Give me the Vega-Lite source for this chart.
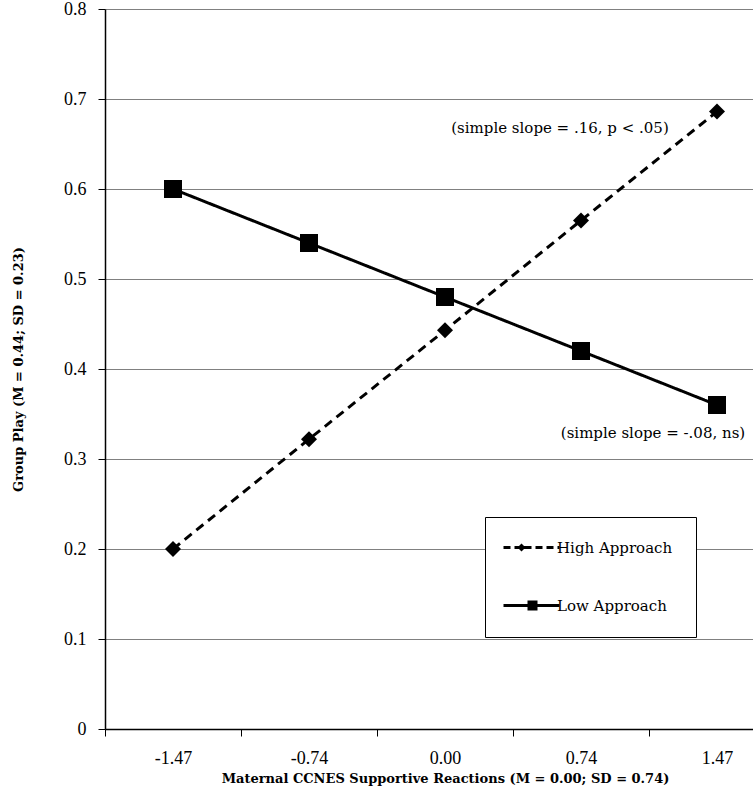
{
  "$schema": "https://vega.github.io/schema/vega-lite/v6.json",
  "width": 680,
  "height": 720,
  "autosize": {"type": "none"},
  "padding": {"left": 105, "top": 9, "right": 0, "bottom": 65},
  "background": "white",
  "config": {
    "view": {"stroke": null},
    "font": "Liberation Serif",
    "axis": {"labelColor": "black", "titleColor": "black", "domainColor": "black", "tickColor": "black"}
  },
  "datasets": {
    "lines": [
      {"x": "-1.47", "y": 0.20, "series": "High Approach"},
      {"x": "-0.74", "y": 0.322, "series": "High Approach"},
      {"x": "0.00", "y": 0.443, "series": "High Approach"},
      {"x": "0.74", "y": 0.565, "series": "High Approach"},
      {"x": "1.47", "y": 0.686, "series": "High Approach"},
      {"x": "-1.47", "y": 0.60, "series": "Low Approach"},
      {"x": "-0.74", "y": 0.54, "series": "Low Approach"},
      {"x": "0.00", "y": 0.48, "series": "Low Approach"},
      {"x": "0.74", "y": 0.42, "series": "Low Approach"},
      {"x": "1.47", "y": 0.36, "series": "Low Approach"}
    ],
    "note1": [{"x": "0.74", "y": 0.668, "label": "(simple slope = .16, p < .05)"}],
    "note2": [{"x": "1.47", "y": 0.329, "label": "(simple slope = -.08, ns)"}]
  },
  "encoding": {
    "x": {
      "field": "x",
      "type": "ordinal",
      "sort": ["-1.47", "-0.74", "0.00", "0.74", "1.47"],
      "scale": {"domain": ["-1.47", "-0.74", "0.00", "0.74", "1.47"], "paddingInner": 0, "paddingOuter": 0},
      "axis": {
        "title": "Maternal CCNES Supportive Reactions (M = 0.00; SD = 0.74)",
        "titleFont": "DejaVu Serif",
        "titleFontSize": 13,
        "titleFontWeight": "bold",
        "titlePadding": 5,
        "labelFontSize": 18,
        "labelFont": "Liberation Serif",
        "labelAngle": 0,
        "labelPadding": 13,
        "tickOffset": -68,
        "labelOffset": 68,
        "tickSize": 7,
        "tickWidth": 1,
        "domainWidth": 1.5,
        "grid": false
      }
    },
    "y": {
      "field": "y",
      "type": "quantitative",
      "scale": {"domain": [0, 0.8], "nice": false, "zero": true},
      "axis": {
        "title": "Group Play (M = 0.44; SD = 0.23)",
        "titleFont": "DejaVu Serif",
        "titleFontSize": 13,
        "titleFontWeight": "bold",
        "titlePadding": 38,
        "values": [0, 0.1, 0.2, 0.3, 0.4, 0.5, 0.6, 0.7, 0.8],
        "labelExpr": "datum.value == 0 ? '0' : format(datum.value, '.1f')",
        "labelFontSize": 18,
        "labelFont": "Liberation Serif",
        "labelPadding": 12,
        "tickSize": 7,
        "grid": true,
        "gridColor": "#808080",
        "gridWidth": 1,
        "gridOpacity": 1,
        "domainWidth": 1.5
      }
    }
  },
  "layer": [
    {
      "data": {"name": "lines"},
      "mark": {"type": "line", "color": "black", "strokeWidth": 3},
      "encoding": {
        "detail": {"field": "series", "type": "nominal"},
        "strokeDash": {
          "field": "series",
          "type": "nominal",
          "scale": {"domain": ["High Approach", "Low Approach"], "range": [[9, 6], [1, 0]]},
          "legend": null
        }
      }
    },
    {
      "data": {"name": "lines"},
      "mark": {"type": "point", "filled": true, "color": "black", "opacity": 1},
      "encoding": {
        "shape": {
          "field": "series",
          "type": "nominal",
          "scale": {"domain": ["High Approach", "Low Approach"], "range": ["diamond", "square"]},
          "legend": null
        },
        "size": {
          "field": "series",
          "type": "nominal",
          "scale": {"domain": ["High Approach", "Low Approach"], "range": [256, 324]},
          "legend": null
        }
      }
    },
    {
      "data": {"name": "lines"},
      "transform": [{"filter": "false"}],
      "mark": {"type": "point", "filled": true, "color": "black", "opacity": 1},
      "encoding": {
        "shape": {
          "field": "series",
          "type": "nominal",
          "scale": {
            "domain": ["High Approach", "Low Approach"],
            "range": [
              "M-12,-1.6H-5V1.6H-12Z M-1,-1.6H3V1.6H-1Z M9,-1.6H16V1.6H9Z M20,-1.6H27V1.6H20Z M31,-1.6H38V1.6H31Z M42,-1.6H44V1.6H42Z M3,-1.6H9V1.6H3Z M6,-4L10,0L6,4L2,0Z",
              "M-12,-1.6H44V1.6H-12Z M12,-5H22V5H12Z"
            ]
          },
          "legend": {
            "title": null,
            "orient": "none",
            "legendX": 380,
            "legendY": 508,
            "padding": 23,
            "strokeColor": "black",
            "fillColor": "white",
            "symbolSize": 4,
            "symbolFillColor": "black",
            "symbolStrokeWidth": 0,
            "symbolOpacity": 1,
            "labelOffset": 34,
            "labelFont": "DejaVu Serif",
            "labelFontSize": 15,
            "labelColor": "black",
            "rowPadding": 42
          }
        }
      }
    },
    {
      "data": {"name": "note1"},
      "mark": {"type": "text", "fontSize": 15, "font": "DejaVu Serif", "color": "black", "dx": -21, "align": "center", "baseline": "middle"},
      "encoding": {"text": {"field": "label"}}
    },
    {
      "data": {"name": "note2"},
      "mark": {"type": "text", "fontSize": 15, "font": "DejaVu Serif", "color": "black", "dx": -64, "align": "center", "baseline": "middle"},
      "encoding": {"text": {"field": "label"}}
    }
  ],
  "resolve": {"scale": {"shape": "independent"}}
}
